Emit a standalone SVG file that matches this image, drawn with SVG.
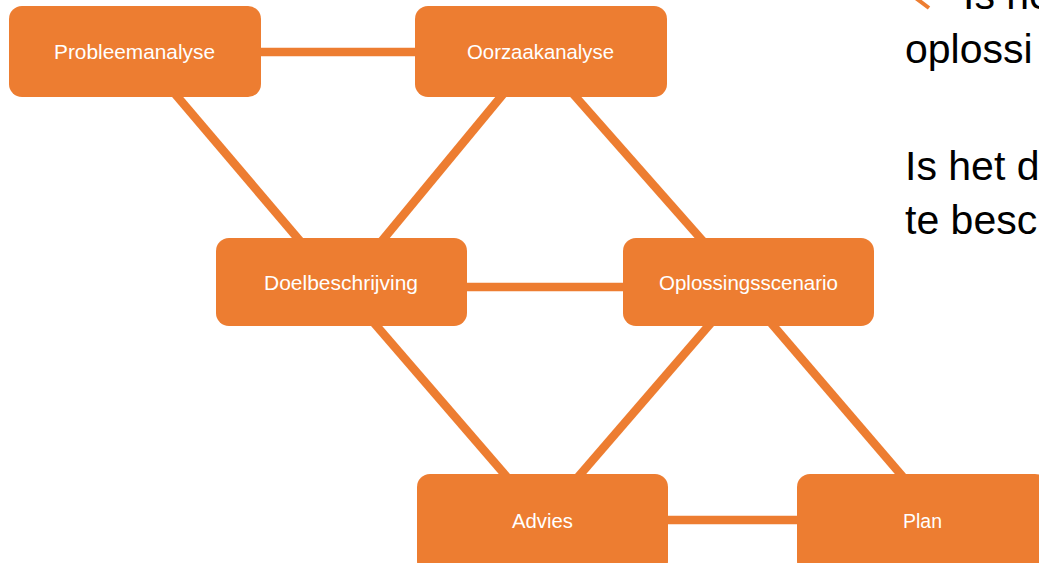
<svg xmlns="http://www.w3.org/2000/svg" width="1039" height="563" viewBox="0 0 1039 563">
<style>
.node{fill:#ED7D31}
.lbl{fill:#FFFFFF;font-family:"Liberation Sans",Arial,sans-serif;font-size:20.5px;text-anchor:middle}
.conn{stroke:#ED7D31;stroke-width:8.5;fill:none;stroke-linecap:butt}
.side{fill:#000000;font-family:"Liberation Sans",Arial,sans-serif;font-size:41px}
</style>
<rect width="1039" height="563" fill="#FFFFFF"/>
<g id="connectors">
<line class="conn" x1="200" y1="52" x2="430" y2="52"/>
<line class="conn" x1="170" y1="88" x2="306" y2="248"/>
<line class="conn" x1="509" y1="87" x2="376" y2="248"/>
<line class="conn" x1="567" y1="87" x2="709" y2="248"/>
<line class="conn" x1="400" y1="287" x2="690" y2="287"/>
<line class="conn" x1="368" y1="316" x2="513" y2="484"/>
<line class="conn" x1="717" y1="316" x2="572" y2="484"/>
<line class="conn" x1="765" y1="316" x2="909" y2="484"/>
<line class="conn" x1="600" y1="520" x2="860" y2="520"/>
</g>
<g id="n-probleemanalyse">
<rect class="node" x="9" y="6" width="252" height="91" rx="13"/>
<text class="lbl" x="134.5" y="59" textLength="161" lengthAdjust="spacingAndGlyphs">Probleemanalyse</text>
</g>
<g id="n-oorzaakanalyse">
<rect class="node" x="415" y="6" width="252" height="91" rx="13"/>
<text class="lbl" x="540.5" y="59" textLength="147" lengthAdjust="spacingAndGlyphs">Oorzaakanalyse</text>
</g>
<g id="n-doelbeschrijving">
<rect class="node" x="216" y="238" width="251" height="88" rx="13"/>
<text class="lbl" x="341" y="290" textLength="154" lengthAdjust="spacingAndGlyphs">Doelbeschrijving</text>
</g>
<g id="n-oplossingsscenario">
<rect class="node" x="623" y="238" width="251" height="88" rx="13"/>
<text class="lbl" x="748.5" y="290" textLength="179" lengthAdjust="spacingAndGlyphs">Oplossingsscenario</text>
</g>
<g id="n-advies">
<rect class="node" x="417" y="474" width="251" height="100" rx="13"/>
<text class="lbl" x="542.5" y="528" textLength="61" lengthAdjust="spacingAndGlyphs">Advies</text>
</g>
<g id="n-plan">
<rect class="node" x="797" y="474" width="251" height="100" rx="13"/>
<text class="lbl" x="922.5" y="528" textLength="39" lengthAdjust="spacingAndGlyphs">Plan</text>
</g>
<g id="side-text">
<polyline points="929,-10 917,-1 929,8" fill="none" stroke="#ED7D31" stroke-width="4"/>
<text class="side" x="963" y="9">Is he</text>
<text class="side" x="905" y="63">oplossi</text>
<text class="side" x="905" y="180">Is het d</text>
<text class="side" x="905" y="234">te besc</text>
</g>
</svg>
